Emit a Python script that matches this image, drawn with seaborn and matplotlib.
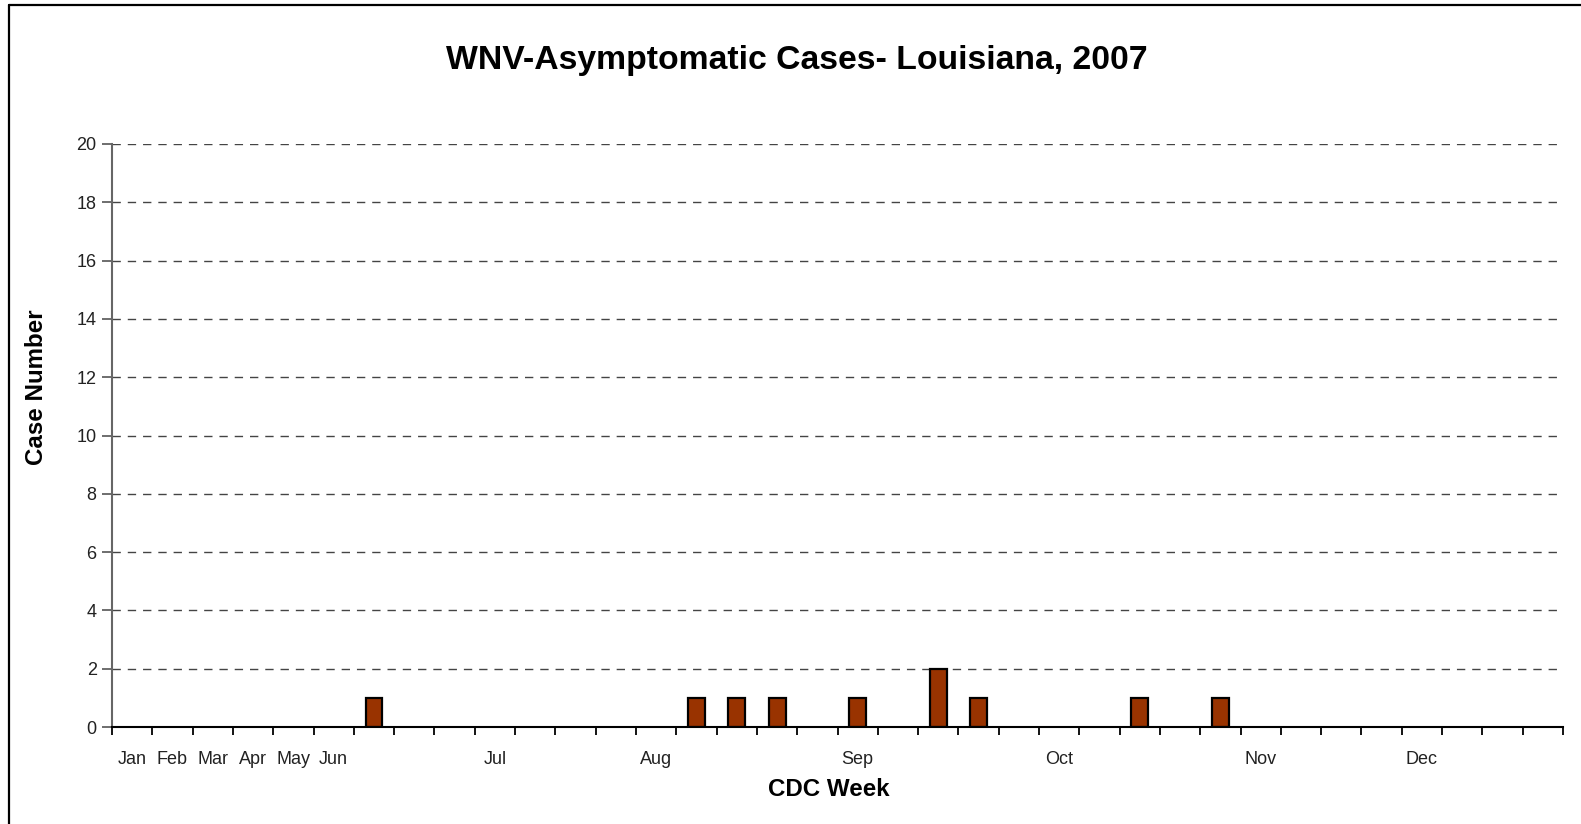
import numpy as np
import pandas as pd
import matplotlib
matplotlib.use('Agg')
import matplotlib.pyplot as plt
import seaborn as sns
from matplotlib.lines import Line2D

# ----------------------------------------------------------
# Data
# ----------------------------------------------------------
week_slots = list(range(36))
cases = [0, 0, 0, 0, 0, 0, 1, 0, 0, 0,
         0, 0, 0, 0, 1, 1, 1, 0, 1, 0,
         2, 1, 0, 0, 0, 1, 0, 1, 0, 0,
         0, 0, 0, 0, 0, 0]
tick_labels = ['Jan', 'Feb', 'Mar', 'Apr', 'May', 'Jun', '', '', '', 'Jul',
               '', '', '', 'Aug', '', '', '', '', 'Sep', '',
               '', '', '', 'Oct', '', '', '', '', 'Nov', '',
               '', '', 'Dec', '', '', '']
y_ticks = list(range(0, 21, 2))

df = pd.DataFrame({'week': week_slots, 'cases': cases})

sns.set_style('white')
narrow = ['Liberation Sans Narrow', 'Liberation Sans', 'DejaVu Sans']
bold = ['Liberation Sans', 'DejaVu Sans']
plt.rcParams['font.family'] = narrow

fig = plt.figure(figsize=(15.81, 8.24), dpi=100)
ax = fig.add_axes([112 / 1581, 1 - 727 / 824, (1563 - 112) / 1581, (727 - 144) / 824])

sns.barplot(data=df, x='week', y='cases', color='#993300', width=0.42,
            edgecolor='black', linewidth=1.6, saturation=1, ax=ax, zorder=3)
# zero-height bars should not leave an outline on the baseline
for patch in ax.patches:
    if patch.get_height() == 0:
        patch.set_visible(False)

ax.set_xlim(-0.5, len(week_slots) - 0.5)
ax.set_ylim(0, 20)

# month labels without marks, slot boundaries as marks
ax.set_xticks(week_slots)
ax.set_xticklabels(tick_labels, fontsize=13, color='#222222')
ax.tick_params(axis='x', which='major', length=0, pad=17, bottom=True)
ax.set_xticks(np.arange(-0.5, len(week_slots), 1), minor=True)
ax.tick_params(axis='x', which='minor', length=6, width=1.3, color='black',
               direction='out', bottom=True)

ax.set_yticks(y_ticks)
ax.set_yticklabels([str(v) for v in y_ticks], fontsize=13, color='#222222')
ax.tick_params(axis='y', length=7, width=1.2, color='#555555', direction='out', pad=4, left=True)

ax.yaxis.grid(True, linestyle=(0, (6, 5)), color='#444444', linewidth=1.0, zorder=0)
ax.xaxis.grid(False)
ax.set_axisbelow(True)

for s in ['top', 'right']:
    ax.spines[s].set_visible(False)
ax.spines['left'].set_color('#666666')
ax.spines['left'].set_linewidth(1.5)
ax.spines['bottom'].set_color('black')
ax.spines['bottom'].set_linewidth(1.5)
ax.spines['bottom'].set_zorder(4)

ax.set_xlabel('')
ax.set_ylabel('')

fig.text(797 / 1581, 1 - 60 / 824, 'WNV-Asymptomatic Cases- Louisiana, 2007',
         ha='center', va='center', fontsize=24.3, fontweight='bold', family=bold, color='black')
fig.text(829 / 1581, 1 - 789 / 824, 'CDC Week', ha='center', va='center',
         fontsize=17.4, fontweight='bold', family=bold, color='black')
fig.text(37 / 1581, 1 - 387 / 824, 'Case Number', ha='center', va='center',
         rotation=90, fontsize=17.4, fontweight='bold', family=bold, color='black')

# outer frame (only left and top edges are visible in the crop)
fig.add_artist(Line2D([9 / 1581, 9 / 1581], [0, 1 - 5 / 824], color='black', linewidth=1.6,
                      transform=fig.transFigure))
fig.add_artist(Line2D([9 / 1581, 1], [1 - 5 / 824, 1 - 5 / 824], color='black', linewidth=1.6,
                      transform=fig.transFigure))

fig.savefig('out.png', dpi=100)
